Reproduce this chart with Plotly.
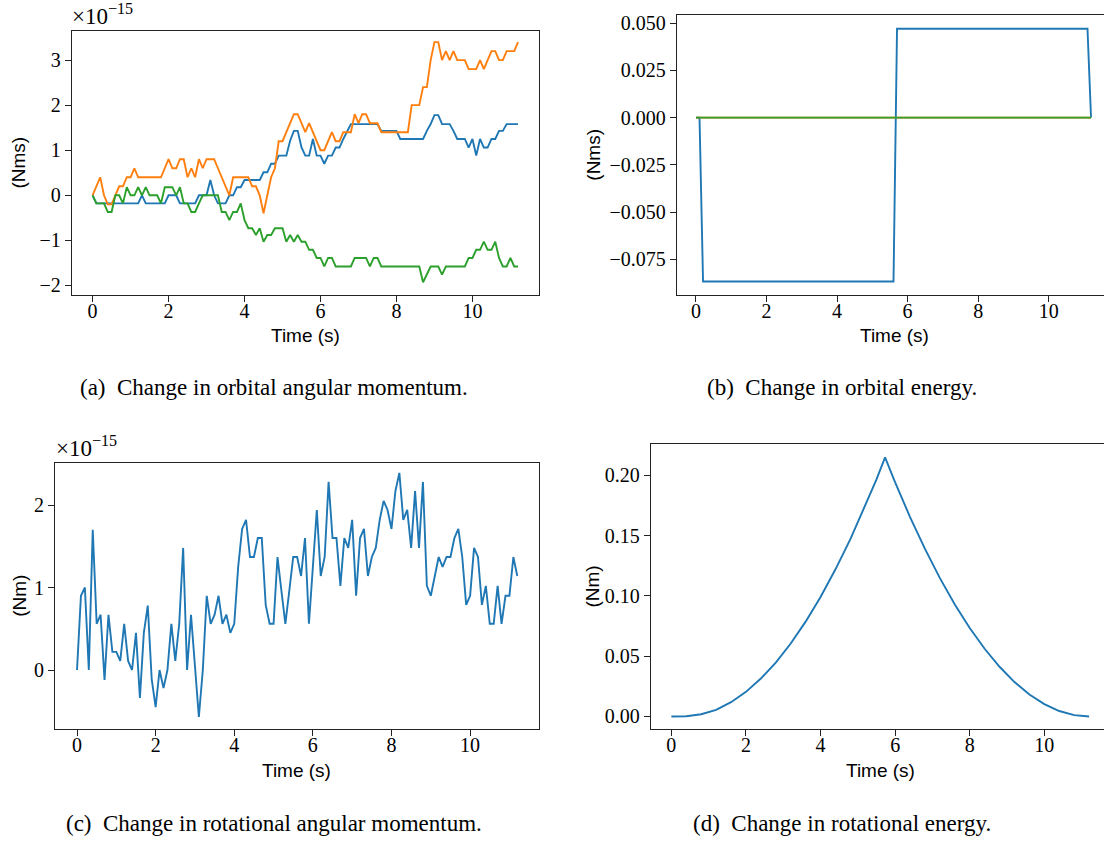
import plotly.graph_objects as go

W, H = 1104, 841

# ---------------- data ----------------
TIME = [round(0.1 * k, 1) for k in range(113)]  # s

# (a) change in orbital angular momentum, units of 1e-15 Nms
ORB_L_BLUE = [0] + [-0.18] * 12 + [0] + [-0.18] * 6 + [0] * 3 + [-0.18] * 5 + [0] * 3 + [0.34, 0] + \
    [-0.18] * 3 + [0] * 2 + [0.18] * 2 + [0.34] * 5 + [0.51] * 2 + [0.70] * 2 + [0.88] * 3 + \
    [1.21, 1.43, 1.43, 1.06, 0.88, 0.88, 1.25, 0.88, 0.88, 0.70, 0.88, 0.88, 1.06, 1.06, 1.25, 1.43] + \
    [1.58] * 8 + [1.43] * 5 + [1.25] * 7 + [1.43, 1.58, 1.78, 1.78] + [1.58] * 3 + [1.43] + \
    [1.25] * 3 + [1.06, 1.25, 0.88, 1.25, 1.06, 1.06, 1.25, 1.25, 1.43, 1.43] + [1.58] * 4
ORB_L_ORANGE = [0, 0.2, 0.4, 0, -0.2, -0.2, 0, 0.2, 0.2, 0.4, 0.4, 0.6] + [0.4] * 7 + \
    [0.6, 0.8, 0.6, 0.6, 0.8, 0.8, 0.4, 0.6, 0.4, 0.8, 0.6, 0.8, 0.8, 0.8, 0.6, 0.4, 0.2, 0] + \
    [0.4] * 5 + [0.2, 0.2, 0, -0.4, 0, 0.4, 0.6, 1.2, 1.2, 1.4, 1.6, 1.8, 1.8, 1.6, 1.4, 1.6, 1.4,
                 1.2, 1.0, 1.0, 1.2, 1.4, 1.2, 1.2] + \
    [1.4] * 3 + [1.8, 1.6, 1.8, 1.8] + [1.6] * 3 + [1.4] * 8 + [2.0] * 3 + [2.4] * 2 + [3.0] + \
    [3.4] * 2 + [3.0, 3.2, 3.0, 3.2] + [3.0] * 3 + [2.8] * 3 + [3.0, 2.8, 3.0] + [3.2] * 2 + \
    [3.0] * 2 + [3.2] * 3 + [3.4]
ORB_L_GREEN = [0] + [-0.18] * 3 + [-0.37] * 2 + [0] * 2 + [-0.18, 0.18, 0, 0, 0.18, 0, 0.18] + [0] * 3 + \
    [-0.18] + [0.18] * 3 + [0, 0.18] + [-0.18] * 2 + [-0.37] * 2 + [-0.18] + [0] * 5 + [-0.37] * 2 + \
    [-0.55] + [-0.37] * 2 + [-0.18, -0.55] + [-0.73] * 2 + [-0.88, -0.73, -1.03] + [-0.88] * 2 + \
    [-0.73] * 3 + [-1.03, -0.88, -1.03, -0.88] + [-1.03] * 2 + [-1.21] * 2 + [-1.39] * 2 + [-1.58] + \
    [-1.39] * 2 + [-1.58] * 5 + [-1.39] * 4 + [-1.58] + [-1.39] * 2 + [-1.58] * 11 + [-1.93, -1.76] + \
    [-1.58] * 3 + [-1.76] + [-1.58] * 6 + [-1.39] * 2 + [-1.21] * 2 + [-1.03] + [-1.21] * 2 + \
    [-1.03, -1.39] + [-1.58] * 2 + [-1.39] + [-1.58] * 2

# (b) change in orbital energy, Nms
B_TIME = [0.0, 0.1, 0.2, 5.6, 5.7, 11.1, 11.2]
ORB_E_BLUE = [0.0, 0.0, -0.0868, -0.0868, 0.0471, 0.0471, 0.0]
B_TIME_FLAT = [0.0, 11.2]
ORB_E_ORANGE = [0.0, 0.0]
ORB_E_GREEN = [0.0, 0.0]

# (c) change in rotational angular momentum, units of 1e-15 Nm
ROT_L = [0, 0.9, 1.0, 0, 1.7, 0.56, 0.67, -0.12, 0.67, 0.22,
         0.22, 0.11, 0.56, 0.11, 0, 0.45, -0.34, 0.45, 0.78, -0.11,
         -0.45, 0, -0.22, 0, 0.56, 0.11, 0.56, 1.48, 0, 0.67,
         0.05, -0.57, 0, 0.9, 0.56, 0.67, 0.9, 0.56, 0.67, 0.45,
         0.56, 1.25, 1.71, 1.82, 1.37, 1.37, 1.6, 1.6, 0.79, 0.56,
         0.56, 1.37, 0.96, 0.56, 0.96, 1.37, 1.37, 1.14, 1.6, 0.56,
         1.25, 1.94, 1.14, 1.37, 2.28, 1.6, 1.6, 1.02, 1.6, 1.48,
         1.82, 0.9, 1.6, 1.71, 1.14, 1.37, 1.48, 1.82, 2.05, 1.94,
         1.71, 2.17, 2.39, 1.82, 1.94, 1.48, 2.17, 1.48, 2.28, 1.02,
         0.9, 1.14, 1.37, 1.25, 1.37, 1.37, 1.6, 1.71, 1.37, 0.79,
         0.9, 1.48, 1.37, 0.79, 1.02, 0.56, 0.56, 1.02, 0.56, 0.9,
         0.9, 1.37, 1.14]

# (d) change in rotational energy, Nm
D_TIME = [0.0, 0.4, 0.8, 1.2, 1.6, 2.0, 2.4, 2.8, 3.2, 3.6, 4.0, 4.4, 4.8, 5.2, 5.5, 5.73,
          6.0, 6.4, 6.8, 7.2, 7.6, 8.0, 8.4, 8.8, 9.2, 9.6, 10.0, 10.4, 10.8, 11.2]
ROT_E = [0.0, 0.0002, 0.0018, 0.0055, 0.0118, 0.0204, 0.0314, 0.0447, 0.0605, 0.0786, 0.0990,
         0.1220, 0.1470, 0.1745, 0.1965, 0.2148,
         0.1941, 0.1653, 0.1389, 0.1147, 0.0929, 0.0733, 0.0561, 0.0412, 0.0285, 0.0182,
         0.0102, 0.0045, 0.0011, 0.0]

X_TICKS = [0, 2, 4, 6, 8, 10]
A_YTICKS = [-2, -1, 0, 1, 2, 3]
B_YTICKS = [-0.075, -0.050, -0.025, 0.0, 0.025, 0.050]
C_YTICKS = [0, 1, 2]
D_YTICKS = [0.0, 0.05, 0.10, 0.15, 0.20]

CAPTIONS = ["(a)\u2002Change in orbital angular momentum.",
            "(b)\u2002Change in orbital energy.",
            "(c)\u2002Change in rotational angular momentum.",
            "(d)\u2002Change in rotational energy."]

BLUE, ORANGE, GREEN = "#1f77b4", "#ff7f0e", "#2ca02c"

# ---------------- figure ----------------
def px_x(p):
    return p / W


def px_y(p):
    return 1 - p / H


fig = go.Figure()
LW = 1.9

def line(x, y, color, xa, ya):
    fig.add_trace(go.Scatter(x=x, y=y, mode="lines", line=dict(color=color, width=LW),
                             xaxis=xa, yaxis=ya, showlegend=False, hoverinfo="skip"))

line(TIME, ORB_L_BLUE, BLUE, "x", "y")
line(TIME, ORB_L_ORANGE, ORANGE, "x", "y")
line(TIME, ORB_L_GREEN, GREEN, "x", "y")

line(B_TIME, ORB_E_BLUE, BLUE, "x2", "y2")
line(B_TIME_FLAT, ORB_E_ORANGE, ORANGE, "x2", "y2")
line(B_TIME_FLAT, ORB_E_GREEN, GREEN, "x2", "y2")

line(TIME, ROT_L, BLUE, "x3", "y3")
line(D_TIME, ROT_E, BLUE, "x4", "y4")

TICKFONT = dict(family="Liberation Serif", size=20, color="black")
AXCOL = "#222222"

def xaxis(dom, rng, anchor):
    return dict(domain=dom, range=rng, anchor=anchor, tickvals=X_TICKS, ticks="outside",
                ticklen=6, tickcolor=AXCOL, tickwidth=1, showline=True, linecolor=AXCOL,
                linewidth=1, mirror=True, showgrid=False, zeroline=False, tickfont=TICKFONT,
                ticklabelstandoff=-8, fixedrange=True)


def yaxis(dom, rng, anchor, vals, fmt, mirror):
    return dict(domain=dom, range=rng, anchor=anchor, tickvals=vals, tickformat=fmt,
                ticks="outside", ticklen=6, tickcolor=AXCOL, tickwidth=1, showline=True,
                linecolor=AXCOL, linewidth=1, mirror=mirror, showgrid=False, zeroline=False,
                tickfont=TICKFONT, fixedrange=True)


layout = dict(
    width=W, height=H, margin=dict(l=0, r=0, t=0, b=0),
    paper_bgcolor="white", plot_bgcolor="white",
    xaxis=xaxis([px_x(71.7), px_x(539.3)], [-0.55, 11.76], "y"),
    yaxis=yaxis([px_y(293.3), px_y(27.7)], [-2.203, 3.656], "x", A_YTICKS, "d", True),
    xaxis2=xaxis([px_x(676.7), 1.0], [-0.547, 11.568], "y2"),
    yaxis2=yaxis([px_y(293.3), px_y(12)], [-0.0937, 0.0544], "x2", B_YTICKS, ".3f", False),
    xaxis3=xaxis([px_x(55), px_x(539.3)], [-0.56, 11.76], "y3"),
    yaxis3=yaxis([px_y(730), px_y(462.7)], [-0.711, 2.51], "x3", C_YTICKS, "d", True),
    xaxis4=xaxis([px_x(650.7), 1.0], [-0.554, 11.60], "y4"),
    yaxis4=yaxis([px_y(730.7), px_y(444)], [-0.0107, 0.2256], "x4", D_YTICKS, ".2f", False),
)

SANS = dict(family="Liberation Sans", size=19, color="black")
SERIF_CAP = dict(family="Liberation Serif", size=23, color="black")
SERIF_OFF = dict(family="Liberation Serif", size=23, color="black")

ann = []
def text(s, x, y, font, angle=0, xanchor="center", yanchor="middle"):
    ann.append(dict(text=s, x=px_x(x), y=px_y(y), xref="paper", yref="paper", showarrow=False,
                    font=font, textangle=angle, xanchor=xanchor, yanchor=yanchor))

# axis titles
for cx, cy in [(305.5, 334), (894, 334), (297, 772), (880, 772)]:
    text("Time (s)", cx, cy, SANS)
text("(Nms)", 19, 160.5, SANS, angle=-90)
text("(Nms)", 594, 152.6, SANS, angle=-90)
text("(Nm)", 20, 596.4, SANS, angle=-90)
text("(Nm)", 592.7, 587.4, SANS, angle=-90)

# offset texts
text("\u00d710<sup>\u221215</sup>", 70, 28, SERIF_OFF, xanchor="left", yanchor="bottom")
text("\u00d710<sup>\u221215</sup>", 54, 463, SERIF_OFF, xanchor="left", yanchor="bottom")

# captions
text(CAPTIONS[0], 273.5, 387, SERIF_CAP)
text(CAPTIONS[1], 841.5, 387, SERIF_CAP)
text(CAPTIONS[2], 273.5, 825, SERIF_CAP)
text(CAPTIONS[3], 841.5, 825, SERIF_CAP)

layout["annotations"] = ann
fig.update_layout(**layout)
fig.write_html("out.html")
